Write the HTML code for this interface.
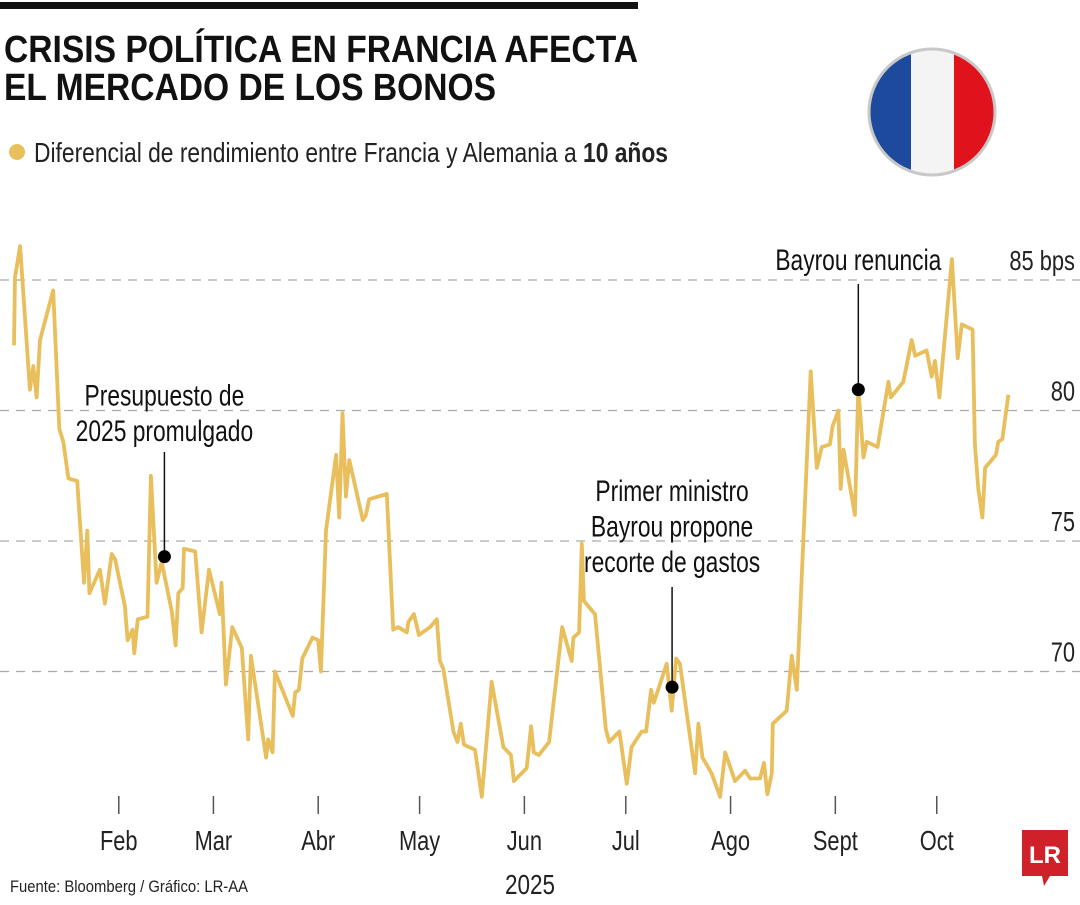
<!DOCTYPE html>
<html><head><meta charset="utf-8">
<style>
html,body{margin:0;padding:0;background:#fff;}
body{width:1080px;height:900px;overflow:hidden;position:relative;font-family:"Liberation Sans Narrow","Liberation Sans",sans-serif;}
svg text{font-family:"Liberation Sans Narrow","Liberation Sans",sans-serif;}
</style></head>
<body>
<svg id="chart" width="1080" height="900" viewBox="0 0 1080 900">
  <rect x="0" y="2" width="638" height="7" fill="#111"/>
  <text x="4" y="62" font-size="38" font-weight="bold" fill="#111" textLength="634" lengthAdjust="spacingAndGlyphs">CRISIS POLÍTICA EN FRANCIA AFECTA</text>
  <text x="4" y="100" font-size="38" font-weight="bold" fill="#111" textLength="492" lengthAdjust="spacingAndGlyphs">EL MERCADO DE LOS BONOS</text>
  <circle cx="17" cy="152" r="8" fill="#e8c15a"/>
  <text x="34" y="162" font-size="28" fill="#222" textLength="634" lengthAdjust="spacingAndGlyphs">Diferencial de rendimiento entre Francia y Alemania a <tspan font-weight="bold">10 años</tspan></text>
  <g>
    <defs><clipPath id="fc"><circle cx="932" cy="112" r="62"/></clipPath></defs>
    <g clip-path="url(#fc)">
      <rect x="868" y="48" width="43" height="130" fill="#1d4a9c"/>
      <rect x="911" y="48" width="43" height="130" fill="#f4f4f4"/>
      <rect x="954" y="48" width="43" height="130" fill="#e0121c"/>
    </g>
    <circle cx="932" cy="112" r="63" fill="none" stroke="#c8c8c8" stroke-width="3"/>
  </g>
  <g id="grid"></g>
  <g id="xaxis"></g>
  <path id="line" fill="none" stroke="#e8bf5c" stroke-width="3.8" stroke-linejoin="round"/>
  <g id="annots"></g>
  <text x="10" y="892" font-size="17" fill="#222" textLength="238" lengthAdjust="spacingAndGlyphs">Fuente: Bloomberg / Gráfico: LR-AA</text>
  <text x="530" y="894" font-size="28" fill="#222" text-anchor="middle" textLength="50" lengthAdjust="spacingAndGlyphs">2025</text>
  <g>
    <path d="M1022 830 H1068 V876 H1050 L1044 886 L1042 876 H1022 Z" fill="#d0202a"/>
    <text x="1045" y="863" font-size="24" font-weight="bold" fill="#fff" text-anchor="middle" font-family="Liberation Serif,serif">LR</text>
  </g>
</svg>
<script>
const days = [0,0.3,1.8,4.7,5.7,6.7,7.7,11.6,13.4,14.6,16.1,18.7,20.7,21.7,22.3,25.4,26.9,28.9,29.9,32.8,33.6,35.1,35.6,36.6,39.5,40.5,42.2,43.7,46.7,47.8,48.6,49.9,50.3,53.6,55.5,57.7,60.9,61.4,62.7,64.6,67.4,69.3,70.1,74.6,75.2,76.5,77.2,82.5,83.2,84.3,85.3,88.3,90.0,90.8,92.3,95.3,96.2,97.2,98.2,99.2,103.2,104.1,105.1,110.3,112.2,113.7,116.2,116.7,118.3,119.8,123.1,125.1,126.0,127.0,130.0,131.2,132.2,133.1,136.4,138.4,141.3,144.8,147.0,147.9,151.7,153.0,153.8,155.3,158.3,162.2,165.0,165.5,167.2,168.0,168.6,171.9,175.1,176.1,179.1,181.3,182.7,185.7,187.0,188.5,189.3,193.1,194.6,195.9,197.0,201.5,202.5,203.7,206.4,208.9,210.4,213.3,216.3,217.8,220.7,221.9,222.9,224.2,224.5,228.6,230.1,231.6,235.7,237.5,239.0,241.4,242.2,243.9,244.6,245.4,248.8,249.8,251.3,252.3,255.5,258.7,259.4,263.1,265.6,266.6,270.0,271.5,272.5,273.8,277.5,279.2,280.4,283.6,284.3,285.3,286.5,287.3,290.5,291.2,292.4,294.2];
const values = [82.5,85.1,86.3,80.8,81.7,80.5,82.7,84.6,79.3,78.8,77.4,77.3,73.4,75.4,73.0,73.9,72.6,74.5,74.3,72.5,71.2,71.6,70.7,72.0,72.1,77.5,73.4,74.2,72.3,71.0,73.0,73.2,74.7,74.6,71.5,73.9,72.2,73.4,69.5,71.7,70.9,67.4,70.6,66.7,67.4,66.9,70.0,68.3,69.2,69.3,70.5,71.3,71.2,70.0,75.4,78.3,75.9,79.9,76.7,78.1,75.8,76.0,76.6,76.8,71.6,71.7,71.5,71.9,72.2,71.4,71.7,72.0,70.4,70.1,67.7,67.3,68.0,67.2,67.0,65.2,69.6,67.1,66.8,65.8,66.3,67.9,66.9,66.8,67.3,71.7,70.4,71.3,71.5,74.9,72.7,72.2,67.8,67.3,67.7,65.7,67.1,67.7,67.7,69.3,68.8,70.3,68.5,70.5,70.3,66.1,68.0,66.7,66.1,65.2,66.9,65.8,66.2,65.9,65.9,66.5,65.3,66.1,68.0,68.5,70.6,69.3,81.5,77.8,78.6,78.7,79.4,80.0,77.0,78.5,76.0,80.9,78.2,78.8,78.6,81.1,80.5,81.1,82.7,82.1,82.3,81.3,81.9,80.5,85.8,82.0,83.3,83.1,78.7,77.0,75.9,77.8,78.3,78.8,78.9,80.6];
const gridValues = [85,80,75,70];
const gridLabels = ["85 bps","80","75","70"];
const monthLabels = ["Feb","Mar","Abr","May","Jun","Jul","Ago","Sept","Oct"];
const monthDays = [31,59,90,120,151,181,212,243,273];
const annotLabels = [["Presupuesto de","2025 promulgado"],["Primer ministro","Bayrou propone","recorte de gastos"],["Bayrou renuncia"]];
const annotDays = [44.5,194.7,249.8];
const annotValues = [74.4,69.4,80.8];

const NS="http://www.w3.org/2000/svg";
function xs(d){return 14+d*3.38;}
function ys(v){return 280+(85-v)*26.1;}
function mk(tag,attrs,parent){const e=document.createElementNS(NS,tag);for(const k in attrs)e.setAttribute(k,attrs[k]);parent.appendChild(e);return e;}
function squeeze(t,f){const w=t.getComputedTextLength();t.setAttribute('textLength',(w*f).toFixed(1));t.setAttribute('lengthAdjust','spacingAndGlyphs');}

const grid=document.getElementById('grid');
gridValues.forEach((v,i)=>{
  const l=mk('line',{x1:0,x2:1080,y1:ys(v),y2:ys(v),stroke:'#aaa','stroke-width':1.2,'stroke-dasharray':'9 7'},grid);
  
  
  const t=mk('text',{x:1075,y:ys(v)-10,'font-size':28,fill:'#222','text-anchor':'end'},grid);
  t.textContent=gridLabels[i];
  
  
  squeeze(t,0.78);
});
const xa=document.getElementById('xaxis');
monthLabels.forEach((m,i)=>{
  const x=xs(monthDays[i]);
  const tk=mk('line',{x1:x,x2:x,y1:796,y2:814,stroke:'#555','stroke-width':1.5},xa);
  
  
  const t=mk('text',{x:x,y:850,'font-size':28,fill:'#222','text-anchor':'middle'},xa);
  t.textContent=m;
  
  
  squeeze(t,0.78);
});
let d='';
days.forEach((dd,i)=>{d+=(i?'L':'M')+xs(dd).toFixed(1)+' '+ys(values[i]).toFixed(1);});
document.getElementById('line').setAttribute('d',d);

const an=document.getElementById('annots');
const anTop=[[441,452],[572,587],[270,284]];
annotLabels.forEach((lines,i)=>{
  const x=xs(annotDays[i]),y=ys(annotValues[i]);
  const ln=mk('line',{x1:x,x2:x,y1:anTop[i][1],y2:y,stroke:'#111','stroke-width':1.5},an);
  
  
  const c=mk('circle',{cx:x,cy:y,r:6.5,fill:'#000'},an);
  
  
  const n=lines.length;
  lines.forEach((s,j)=>{
    const t=mk('text',{x:x,y:anTop[i][0]+(j-(n-1))*35.5,'font-size':30,fill:'#111','text-anchor':'middle'},an);
    t.textContent=s;
    
    
    squeeze(t,0.76);
  });
});
</script>
</body></html>
